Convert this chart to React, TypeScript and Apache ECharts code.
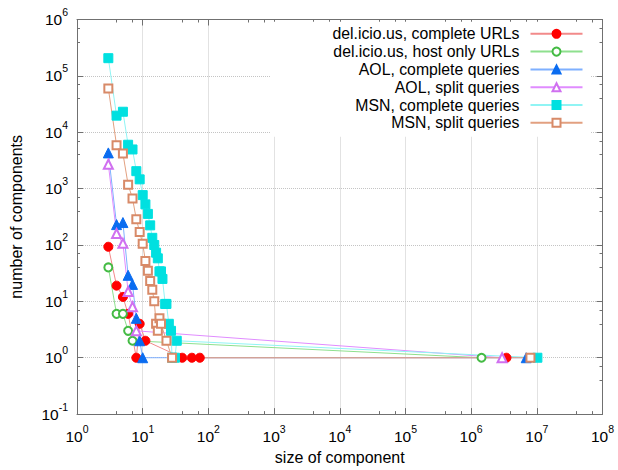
import React, { useEffect, useRef } from "react";
import * as echarts from "echarts";

const FONT = "'Liberation Sans', Arial, Helvetica, sans-serif";

const seriesNames = [
  "del.icio.us, complete URLs",
  "del.icio.us, host only URLs",
  "AOL, complete queries",
  "AOL, split queries",
  "MSN, complete queries",
  "MSN, split queries",
];

const delCompleteX = [3, 4, 5, 6, 8, 9, 11, 40, 56, 74, 3450000];
const delCompleteY = [93, 19, 12, 6, 1, 4, 2, 1, 1, 1, 1];

const delHostX = [3, 4, 5, 6, 7, 1440000];
const delHostY = [40, 6, 6, 3, 2, 1];

const aolCompleteX = [3, 4, 5, 6, 7, 8, 9, 10, 6900000];
const aolCompleteY = [4300, 230, 250, 29, 20, 5, 2, 1, 1];

const aolSplitX = [3, 4, 5, 6, 7, 8, 2960000];
const aolSplitY = [2700, 160, 107, 15, 8, 3, 1];

const msnCompleteX = [3, 4, 5, 6, 7, 8, 9, 10, 11, 12, 13, 14, 15, 16, 17, 18, 19, 20, 22, 23, 25, 27, 28, 31, 33, 10200000];
const msnCompleteY = [206000, 19700, 23100, 6000, 4950, 2040, 1460, 767, 525, 356, 223, 134, 100, 73, 58, 34, 34, 25, 9, 9, 4, 3, 1, 1, 2, 1];

const msnSplitX = [3, 4, 5, 6, 7, 8, 9, 10, 11, 12, 13, 14, 15, 16, 17, 18, 19, 23, 28, 8000000];
const msnSplitY = [60000, 5900, 4200, 1175, 668, 287, 170, 105, 52, 35, 23, 16, 10, 4, 3, 5, 4, 2, 1, 1];

const xMin = 1;
const xMax = 1e8;
const yMin = 0.1;
const yMax = 1e6;

const pair = (xs: number[], ys: number[]) => xs.map((x, i) => [x, ys[i]]);

const supLabel = (v: number) => {
  const e = Math.round(Math.log10(v));
  return `{b|10}{s|${e}}`;
};

const rich = {
  b: { fontSize: 15.5, fontFamily: FONT, color: "#000" },
  s: { fontSize: 10.5, fontFamily: FONT, color: "#000", padding: [0, 0, 15, 0] },
};

const AXIS_COLOR = "#707070";

export default function App() {
  const ref = useRef<HTMLDivElement>(null);
  useEffect(() => {
    if (!ref.current) return;
    const chart = echarts.init(ref.current, undefined, { renderer: "svg" });

    const mk = (
      name: string,
      data: number[][],
      symbol: string,
      size: number,
      markerColor: string,
      lineColor: string
    ) => ({
      name,
      type: "line",
      data,
      symbol,
      symbolSize: size,
      showSymbol: true,
      itemStyle: { color: markerColor, borderColor: markerColor, borderWidth: 1 },
      lineStyle: { color: lineColor, width: 1 },
      emphasis: { disabled: true },
      xAxisIndex: 0,
      yAxisIndex: 0,
    });

    const commonX = {
      type: "log",
      logBase: 10,
      min: xMin,
      max: xMax,
      axisLine: { show: true, lineStyle: { color: AXIS_COLOR, width: 1 } },
      axisTick: { show: true, inside: true, length: 6, lineStyle: { color: AXIS_COLOR } },
      minorTick: { show: true, splitNumber: 3, length: 3, lineStyle: { color: AXIS_COLOR } },
    };
    const commonY = {
      type: "log",
      logBase: 10,
      min: yMin,
      max: yMax,
      axisLine: { show: true, lineStyle: { color: AXIS_COLOR, width: 1 } },
      axisTick: { show: true, inside: true, length: 6, lineStyle: { color: AXIS_COLOR } },
      minorTick: { show: true, splitNumber: 3, length: 3, lineStyle: { color: AXIS_COLOR } },
    };

    chart.setOption({
      animation: false,
      backgroundColor: "#fff",
      grid: { left: 74.5, right: 15.5, top: 19.5, bottom: 49.3, containLabel: false },
      xAxis: [
        {
          ...commonX,
          position: "bottom",
          name: "size of component",
          nameLocation: "middle",
          nameGap: 33,
          nameTextStyle: { fontSize: 16, fontFamily: FONT, color: "#000", verticalAlign: "top" },
          axisLabel: { formatter: supLabel, rich, margin: 9, color: "#000" },
          splitLine: { show: true, lineStyle: { type: "dotted", color: "#c4c4c4" } },
        },
        {
          ...commonX,
          position: "top",
          axisLabel: { show: false },
          splitLine: { show: false },
        },
      ],
      yAxis: [
        {
          ...commonY,
          position: "left",
          name: "number of components",
          nameLocation: "middle",
          nameGap: 53,
          nameTextStyle: { fontSize: 16, fontFamily: FONT, color: "#000" },
          axisLabel: { formatter: supLabel, rich, margin: 9, color: "#000" },
          splitLine: { show: true, lineStyle: { type: "dotted", color: "#c4c4c4" } },
        },
        {
          ...commonY,
          position: "right",
          axisLabel: { show: false },
          splitLine: { show: false },
        },
      ],
      legend: {
        orient: "vertical",
        right: 27.5,
        top: 21.8,
        align: "right",
        itemWidth: 52,
        itemHeight: 10,
        itemGap: 1.8,
        padding: [4, 7, 6, 62],
        backgroundColor: "#fff",
        selectedMode: false,
        textStyle: { fontSize: 15.8, fontFamily: FONT, color: "#000", lineHeight: 15.6, padding: [0, 6, 0, 0] },
        data: seriesNames,
      },
      series: [
        mk(seriesNames[0], pair(delCompleteX, delCompleteY), "circle", 9, "#ff0000", "#f28a8a"),
        mk(seriesNames[1], pair(delHostX, delHostY), "emptyCircle", 8, "#44bb44", "#8ee08e"),
        mk(seriesNames[2], pair(aolCompleteX, aolCompleteY), "triangle", 10, "#0a6cf0", "#7fb0ff"),
        mk(seriesNames[3], pair(aolSplitX, aolSplitY), "emptyTriangle", 9, "#d070f0", "#e08cff"),
        mk(seriesNames[4], pair(msnCompleteX, msnCompleteY), "rect", 9, "#00e0e0", "#90f4f4"),
        mk(seriesNames[5], pair(msnSplitX, msnSplitY), "emptyRect", 8, "#d88a68", "#e2a080"),
      ],
    });
    return () => chart.dispose();
  }, []);
  return (
    <div
      ref={ref}
      style={{ position: "absolute", left: 0, top: 0, width: 618, height: 470, background: "#fff" }}
    />
  );
}
